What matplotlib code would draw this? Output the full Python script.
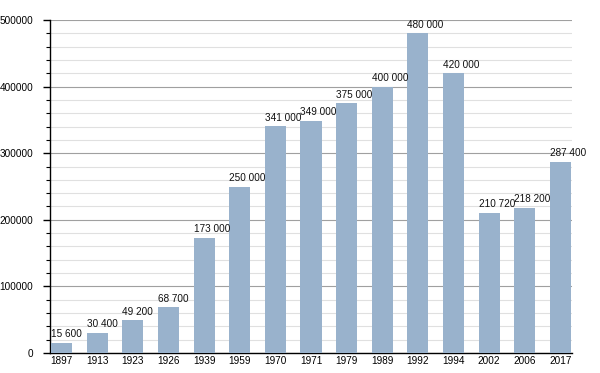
import matplotlib
matplotlib.use("Agg")
import matplotlib.pyplot as plt
from matplotlib.ticker import MultipleLocator

plt.rcParams["font.family"] = ["Liberation Sans", "DejaVu Sans"]

years = ["1897", "1913", "1923", "1926", "1939", "1959", "1970", "1971", "1979",
         "1989", "1992", "1994", "2002", "2006", "2017"]
population = [15600, 30400, 49200, 68700, 173000, 250000, 341000, 349000, 375000,
              400000, 480000, 420000, 210720, 218200, 287400]

fig = plt.figure(figsize=(6, 3.73), dpi=100)
ax = fig.add_axes([50/600, 20/373, 522/600, 333/373])

bw = 0.59
x = list(range(len(years)))
ax.bar(x, population, width=bw, align="edge", color="#99b2cc", zorder=3)
for xi, v in zip(x, population):
    ax.text(xi, v + 5000, f"{v:,}".replace(",", " "), ha="left", va="bottom",
            fontsize=7.2, color="#111111", zorder=4)

ax.set_xlim(-0.03, len(years) - 1 + bw + 0.03)
ax.set_ylim(0, 500000)
ax.set_xticks([xi + bw / 2 for xi in x])
ax.set_xticklabels(years, fontsize=7.2)
ax.yaxis.set_minor_locator(MultipleLocator(20000))
ax.set_yticks(range(0, 500001, 100000))
ax.set_yticklabels([str(t) for t in range(0, 500001, 100000)], fontsize=7.2)
ax.tick_params(axis="x", length=0, pad=2.5)
ax.tick_params(axis="y", which="major", length=5, width=1, direction="out", pad=7)
ax.tick_params(axis="y", which="minor", length=3, width=0.8, direction="out")
ax.grid(axis="y", which="major", color="#a0a0a0", linewidth=0.8, zorder=0)
ax.grid(axis="y", which="minor", color="#e0e0e0", linewidth=0.8, zorder=0)
for s in ["top", "right"]:
    ax.spines[s].set_visible(False)
ax.spines["left"].set_linewidth(1)
ax.spines["bottom"].set_linewidth(1)

fig.savefig("out.png", dpi=100)
